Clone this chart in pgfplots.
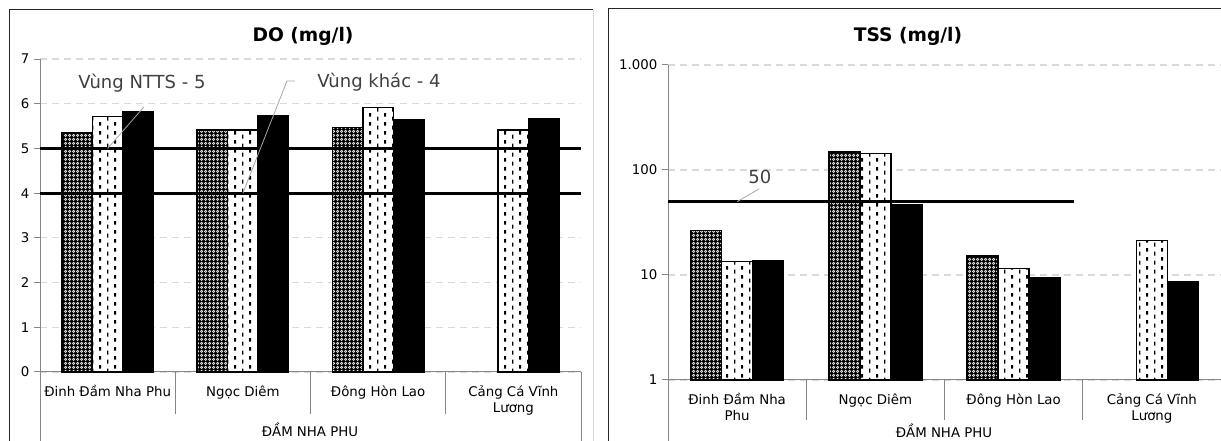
\documentclass[border=0pt]{standalone}
\usepackage{fontspec}
\setmainfont{DejaVu Sans}
\usepackage{pgfplots}
\pgfplotsset{compat=1.18}
\usetikzlibrary{patterns}
\definecolor{axgray}{HTML}{868686}
\definecolor{gridc}{HTML}{D9D9D9}
\definecolor{annc}{HTML}{404040}
\definecolor{leadc}{HTML}{A6A6A6}
\definecolor{framec}{HTML}{262626}

\pgfdeclarepatternformonly{rings}{\pgfpointorigin}{\pgfpoint{3pt}{3pt}}{\pgfpoint{3pt}{3pt}}{%
  \pgfsetlinewidth{0.55pt}%
  \pgfpathcircle{\pgfpoint{1.5pt}{1.5pt}}{1.05pt}\pgfusepath{stroke}}
\pgfdeclarepatternformonly{vdash}{\pgfpointorigin}{\pgfpoint{11.2pt}{6.4pt}}{\pgfpoint{11.2pt}{6.4pt}}{%
  \pgfsetlinewidth{0.9pt}%
  \pgfpathmoveto{\pgfpoint{2.8pt}{0.3pt}}\pgfpathlineto{\pgfpoint{2.8pt}{3.4pt}}\pgfusepath{stroke}%
  \pgfsetlinewidth{1.6pt}%
  \pgfpathmoveto{\pgfpoint{8.4pt}{3.4pt}}\pgfpathlineto{\pgfpoint{8.4pt}{6.2pt}}\pgfusepath{stroke}}

\pgfplotstableread{
x a b c
0 5.34 5.71 5.82
1 5.41 5.41 5.73
2 5.47 5.91 5.64
3 nan  5.41 5.67
}\dotable
\pgfplotstableread{
x a b c
0 26.4 13.5 13.8
1 148  143  46.6
2 15.1 11.5 9.5
3 nan  21.2 8.55
}\tsstable

\pgfplotsset{
  chartbase/.style={
    anchor=south west, scale only axis, clip=false,
    xmin=-0.5, xmax=3.5,
    axis x line=bottom, axis y line=left,
    axis line style={draw=axgray, line width=0.75pt, -},
    xtick={0,1,2,3}, xtick style={draw=none},
    ytick style={draw=axgray, line width=0.75pt},
    tick align=outside, major tick length=4.5pt,
    ymajorgrids, grid style={draw=gridc, line width=0.9pt, dash pattern=on 5pt off 4pt},
    ticklabel style={font=\fontsize{10}{12}\selectfont, text=black},
    xticklabel style={align=center, anchor=north, yshift=-2pt},
    unbounded coords=discard,
  },
  b1/.style={ybar, draw=black, line width=1.1pt, fill=black,
    postaction={pattern=rings, pattern color=white!90!black}},
  b2/.style={ybar, draw=black, line width=1.1pt, fill=white,
    postaction={pattern=vdash, pattern color=black}},
  b3/.style={ybar, draw=black, line width=1.1pt, fill=black},
}

\begin{document}
\begin{tikzpicture}
\useasboundingbox (0,0) rectangle (915.75pt,330.75pt);
\begin{scope}[x=0.75pt,y=-0.75pt,yshift=330.75pt]
  \draw[framec, line width=0.75pt] (9,441) -- (9,10) -- (593,10);
  \draw[gray!30, line width=0.75pt] (593,10) -- (593,441);
  \draw[framec, line width=0.75pt] (608,441) -- (608,9) -- (1221,9);
  \node[font=\bfseries\fontsize{14}{16}\selectfont] at (303,36) {DO (mg/l)};
  \node[font=\bfseries\fontsize{14}{16}\selectfont] at (908,36) {TSS (mg/l)};
  \node[font=\fontsize{10}{12}\selectfont] at (310,430) {ĐẦM NHA PHU};
  \node[font=\fontsize{10}{12}\selectfont] at (944,431) {ĐẦM NHA PHU};
\end{scope}

% ---------------- DO ----------------
\begin{axis}[chartbase,
  at={(30pt,51.75pt)}, width=405.75pt, height=234.75pt,
  ymin=0, ymax=7, ytick={0,1,2,3,4,5,6,7}, yticklabels={0,1,2,3,4,5,6,7},
  xticklabels={{Đinh Đầm Nha Phu},{Ngọc Diêm},{Đông Hòn Lao},{Cảng Cá Vĩnh\\Lương}},
]
\addplot[b1, bar width=22.9pt, bar shift=-22.9pt] table[x=x,y=a] {\dotable};
\addplot[b2, bar width=22.9pt, bar shift=0pt] table[x=x,y=b] {\dotable};
\addplot[b3, bar width=22.9pt, bar shift=22.9pt] table[x=x,y=c] {\dotable};
\addplot[black, line width=2.1pt, forget plot] coordinates {(-0.5,5) (3.5,5)};
\addplot[black, line width=2.1pt, forget plot] coordinates {(-0.5,4) (3.5,4)};
\draw[leadc, line width=0.6pt] (axis cs:0,5) -- (axis cs:0.269,5.93);
\node[text=annc, font=\fontsize{13.5}{16}\selectfont] at (axis cs:0.254,6.47) {Vùng NTTS - 5};
\draw[leadc, line width=0.6pt] (axis cs:1,4) -- (axis cs:1.326,6.51) -- (axis cs:1.385,6.51);
\node[text=annc, font=\fontsize{13.5}{16}\selectfont] at (axis cs:2.006,6.49) {Vùng khác - 4};
\draw[axgray, line width=0.75pt] (axis cs:-0.5,0) -- ++(0pt,-51.75pt);
\draw[axgray, line width=0.75pt] (axis cs:3.5,0) -- ++(0pt,-51.75pt);
\draw[axgray, line width=0.75pt] (axis cs:0.5,0) -- ++(0pt,-31.5pt);
\draw[axgray, line width=0.75pt] (axis cs:1.5,0) -- ++(0pt,-31.5pt);
\draw[axgray, line width=0.75pt] (axis cs:2.5,0) -- ++(0pt,-31.5pt);
\end{axis}

% ---------------- TSS ----------------
\begin{axis}[chartbase,
  at={(501pt,45.75pt)}, width=414.75pt, height=236.25pt,
  ymode=log, ymin=1, ymax=1000, log origin=0,
  ytick={1,10,100,1000}, yticklabels={1,10,100,1.000}, yminorticks=false,
  xticklabels={{Đinh Đầm Nha\\Phu},{Ngọc Diêm},{Đông Hòn Lao},{Cảng Cá Vĩnh\\Lương}},
]
\addplot[b1, bar width=23.25pt, bar shift=-23.25pt] table[x=x,y=a] {\tsstable};
\addplot[b2, bar width=23.25pt, bar shift=0pt] table[x=x,y=b] {\tsstable};
\addplot[b3, bar width=23.25pt, bar shift=23.25pt] table[x=x,y=c] {\tsstable};
\addplot[black, line width=2.1pt, forget plot] coordinates {(-0.5,50) (2.44,50)};
\draw[leadc, line width=0.6pt] (axis cs:0,50) -- (axis cs:0.158,65.9);
\node[text=annc, font=\fontsize{13.5}{16}\selectfont] at (axis cs:0.165,85.8) {50};
\draw[axgray, line width=0.75pt] (axis cs:-0.5,1) -- ++(0pt,-45.75pt);
\draw[axgray, line width=0.75pt] (axis cs:0.5,1) -- ++(0pt,-30pt);
\draw[axgray, line width=0.75pt] (axis cs:1.5,1) -- ++(0pt,-30pt);
\draw[axgray, line width=0.75pt] (axis cs:2.5,1) -- ++(0pt,-30pt);
\end{axis}
\end{tikzpicture}
\end{document}
